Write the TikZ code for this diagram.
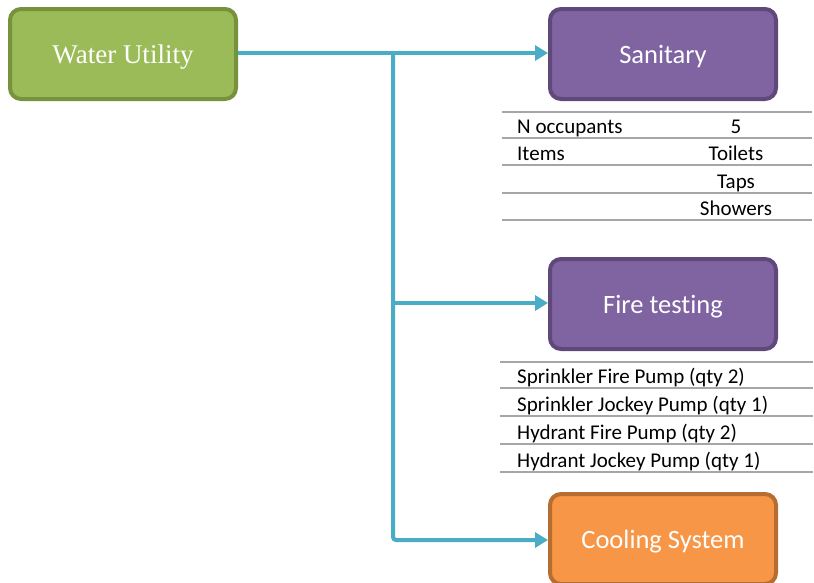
\documentclass[tikz,border=0pt]{standalone}
\usepackage{fontspec}
\setmainfont{Liberation Serif}
\newfontfamily\calib[Ligatures=NoCommon]{Carlito}
\usetikzlibrary{arrows.meta}
\definecolor{gfill}{HTML}{9BBB59}
\definecolor{gline}{HTML}{76923C}
\definecolor{pfill}{HTML}{8064A2}
\definecolor{pline}{HTML}{5F497A}
\definecolor{ofill}{HTML}{F79646}
\definecolor{oline}{HTML}{B66D31}
\definecolor{flow}{HTML}{4BACC6}
\definecolor{rule}{HTML}{A6A6A6}
\tikzset{
  box/.style={rounded corners=11pt, line width=4pt, minimum width=226pt, minimum height=90pt,
    text=white, inner sep=0pt, text height=19pt, text depth=1pt},
  greenbox/.style={box, fill=gfill, draw=gline, font=\fontsize{27}{32}\selectfont},
  purplebox/.style={box, fill=pfill, draw=pline, font=\calib\fontsize{26.5}{31}\selectfont},
  orangebox/.style={box, fill=ofill, draw=oline, font=\calib\fontsize{26.5}{31}\selectfont},
  link/.style={draw=flow, line width=4pt},
  arr/.style={link, -{Triangle[length=13pt,width=15pt]}},
  tabrule/.style={draw=rule, line width=1.1pt},
  cell/.style={font=\calib\fontsize{21}{25}\selectfont, inner sep=0pt, text=black},
}
\begin{document}
\begin{tikzpicture}[x=1pt,y=-1pt]
\useasboundingbox (0,0) rectangle (814,582);

% boxes
\node[greenbox]  (water)   at (123,54)  {Water Utility};
\node[purplebox] (sanit)   at (663,54)  {Sanitary};
\node[purplebox] (fire)    at (663,304) {Fire testing};
\node[orangebox] (cool)    at (663,539) {Cooling System};

% flow lines
\coordinate (j1) at (393,53);
\coordinate (j2) at (393,303);
\coordinate (j3) at (393,540);
\draw[link] (water.east |- j1) -- (j1);
\draw[arr] (j1) -- (sanit.west |- j1);
\draw[arr] (j2) -- (fire.west |- j2);
\draw[arr, rounded corners=3pt] (j1) -- (j3) -- (cool.west |- j3);

% sanitary table (text placed on its baseline)
\foreach \y in {112,138,165,193,220} \draw[tabrule] (502,\y) -- (812,\y);
\node[cell, anchor=base west] (occ) at (517,133) {N occupants};
\node[cell, anchor=base] (occn) at (736,133) {5};
\node[cell, anchor=base west] (items) at (517,160) {Items};
\node[cell, anchor=base] (toil) at (736,160) {Toilets};
\node[cell, anchor=base] (taps) at (736,188) {Taps};
\node[cell, anchor=base] (show) at (736,215) {Showers};

% fire table
\foreach \y in {362,388,416,444,472} \draw[tabrule] (500,\y) -- (813,\y);
\node[cell, anchor=base west] (p1) at (517,383) {Sprinkler Fire Pump (qty 2)};
\node[cell, anchor=base west] (p2) at (517,411) {Sprinkler Jockey Pump (qty 1)};
\node[cell, anchor=base west] (p3) at (517,439) {Hydrant Fire Pump (qty 2)};
\node[cell, anchor=base west] (p4) at (517,467) {Hydrant Jockey Pump (qty 1)};
\end{tikzpicture}
\end{document}
